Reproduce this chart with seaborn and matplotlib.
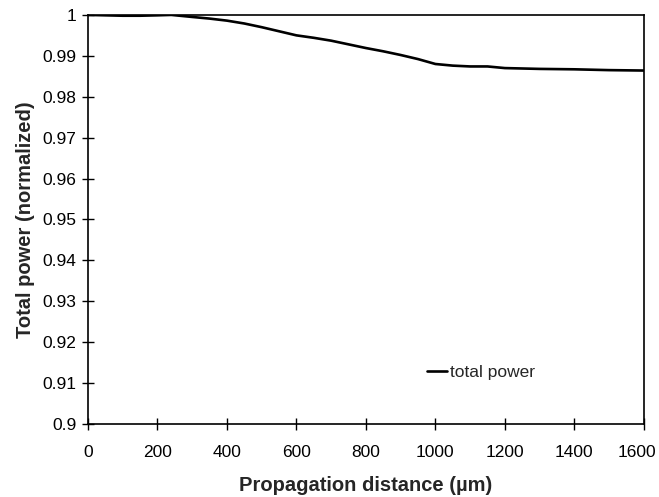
import matplotlib
matplotlib.use("Agg")
import matplotlib.pyplot as plt
import matplotlib.transforms as mtransforms
import seaborn as sns
import pandas as pd

distance = [0, 50, 100, 150, 200, 240, 300, 350, 400, 450, 500, 550, 600, 650, 700, 750, 800, 850, 900, 950, 1000, 1050, 1100, 1150, 1200, 1300, 1400, 1500, 1600]
power = [1.0, 0.9999, 0.9998, 0.9998, 0.9999, 1.0, 0.9995, 0.9991, 0.9986, 0.9979, 0.9970, 0.9960, 0.9950, 0.9944, 0.9937, 0.9928, 0.9919, 0.9911, 0.9902, 0.9892, 0.9880, 0.9876, 0.9874, 0.9874, 0.9870, 0.9868, 0.9867, 0.9865, 0.9864]
x_ticks = [0, 200, 400, 600, 800, 1000, 1200, 1400, 1600]
y_ticks = [0.9, 0.91, 0.92, 0.93, 0.94, 0.95, 0.96, 0.97, 0.98, 0.99, 1.0]
y_labels = ["0.9", "0.91", "0.92", "0.93", "0.94", "0.95", "0.96", "0.97", "0.98", "0.99", "1"]

sns.set_style("ticks")
plt.rcParams['font.family'] = ['Liberation Sans', 'DejaVu Sans']

df = pd.DataFrame({"distance": distance, "power": power})
fig = plt.figure(figsize=(6.59, 4.97), dpi=100)
ax = fig.add_axes([0.1335, 0.147, 0.8435, 0.823])
sns.lineplot(data=df, x="distance", y="power", ax=ax, color="black", linewidth=1.9, label="total power")
ax.set_xlim(0, 1600)
ax.set_ylim(0.9, 1.0)
ax.set_xticks(x_ticks)
ax.set_xticklabels([str(t) for t in x_ticks])
ax.set_yticks(y_ticks)
ax.set_yticklabels(y_labels)
ax.tick_params(direction="inout", length=8, width=1, labelsize=12.5, colors="black")
ax.tick_params(axis="x", pad=11)
ax.tick_params(axis="y", pad=4.5)
last = ax.get_xticklabels()[-1]
last.set_transform(last.get_transform() + mtransforms.ScaledTranslation(-7 / 100, 0, fig.dpi_scale_trans))
for s in ax.spines.values():
    s.set_visible(True)
    s.set_color("black")
    s.set_linewidth(1.2)
ax.set_xlabel("Propagation distance (µm)", fontsize=14.5, fontweight="bold", labelpad=12)
ax.set_ylabel("Total power (normalized)", fontsize=14.5, fontweight="bold", labelpad=5)
leg = ax.legend(loc="center left", bbox_to_anchor=(0.61, 0.125), frameon=False, fontsize=12.5,
                handlelength=1.15, handletextpad=0.2, borderpad=0, borderaxespad=0)
fig.savefig("out.png", dpi=100)
